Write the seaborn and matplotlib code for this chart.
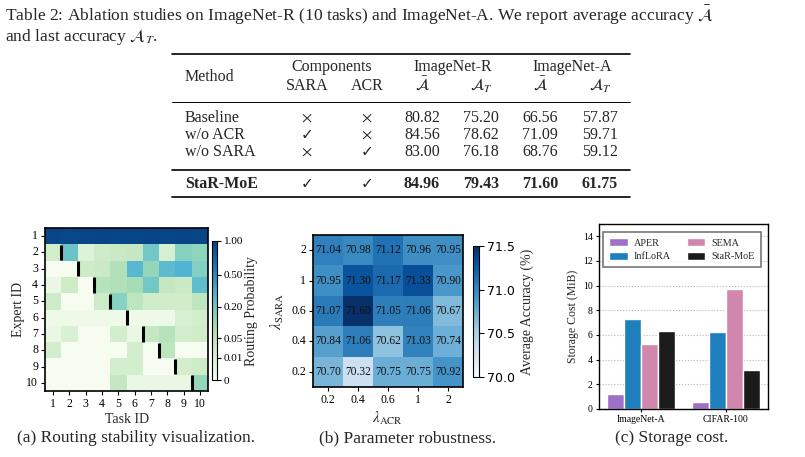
import numpy as np
import pandas as pd
import matplotlib
matplotlib.use("Agg")
import matplotlib.pyplot as plt
import seaborn as sns
from matplotlib.colors import PowerNorm
from matplotlib.lines import Line2D

# ---------------- data ----------------
table_methods = ["Baseline", "w/o ACR", "w/o SARA", "StaR-MoE"]
table_sara = [False, True, False, True]
table_acr = [False, False, True, True]
inr_avg = [80.82, 84.56, 83.00, 84.96]
inr_last = [75.20, 78.62, 76.18, 79.43]
ina_avg = [66.56, 71.09, 68.76, 71.60]
ina_last = [57.87, 59.71, 59.12, 61.75]

expert_ids = [1, 2, 3, 4, 5, 6, 7, 8, 9, 10]
task_ids = [1, 2, 3, 4, 5, 6, 7, 8, 9, 10]
routing_e1 = [0.95, 0.94, 0.95, 0.96, 0.95, 0.95, 0.96, 0.95, 0.96, 0.95]
routing_e2 = [0.02, 0.22, 0.008, 0.03, 0.035, 0.04, 0.20, 0.015, 0.15, 0.13]
routing_e3 = [0.0, 0.0, 0.03, 0.035, 0.07, 0.28, 0.12, 0.26, 0.30, 0.16]
routing_e4 = [0.001, 0.03, 0.0, 0.06, 0.07, 0.09, 0.20, 0.04, 0.035, 0.25]
routing_e5 = [0.03, 0.0, 0.0, 0.03, 0.15, 0.05, 0.025, 0.025, 0.025, 0.05]
routing_e6 = [0.0005, 0.0005, 0.0005, 0.0005, 0.0005, 0.0005, 0.0005, 0.0005, 0.015, 0.02]
routing_e7 = [0.001, 0.012, 0.0, 0.0, 0.02, 0.001, 0.04, 0.06, 0.02, 0.025]
routing_e8 = [0.02, 0.0, 0.0, 0.0, 0.0, 0.02, 0.0, 0.05, 0.0, 0.0]
routing_e9 = [0.0, 0.0, 0.0, 0.0, 0.02, 0.02, 0.0, 0.0, 0.02, 0.03]
routing_e10 = [0.0, 0.0, 0.0, 0.0, 0.04, 0.001, 0.001, 0.001, 0.001, 0.12]
expert_added_at_task = [None, 2, 3, 4, 5, 6, 7, 8, 9, 10]
routing_ticks = [0, 0.01, 0.05, 0.20, 0.50, 1.00]
routing_ticklabels = ["0", "0.01", "0.05", "0.20", "0.50", "1.00"]

lambda_acr = ["0.2", "0.4", "0.6", "1", "2"]
lambda_sara = ["2", "1", "0.6", "0.4", "0.2"]
acc_sara_2 = [71.04, 70.98, 71.12, 70.96, 70.95]
acc_sara_1 = [70.95, 71.30, 71.17, 71.33, 70.90]
acc_sara_06 = [71.07, 71.60, 71.05, 71.06, 70.67]
acc_sara_04 = [70.84, 71.06, 70.62, 71.03, 70.74]
acc_sara_02 = [70.70, 70.32, 70.75, 70.75, 70.92]
acc_ticks = [70.0, 70.5, 71.0, 71.5]

storage_datasets = ["ImageNet-A", "CIFAR-100"]
storage_methods = ["APER", "InfLoRA", "SEMA", "StaR-MoE"]
storage_imagenet_a = [1.18, 7.33, 5.30, 6.35]
storage_cifar100 = [0.58, 6.27, 9.77, 3.19]
storage_colors = ["#9d71c7", "#1d7fbc", "#d186ae", "#1b1b1b"]

# ---------------- style ----------------
sns.set_style("ticks")
plt.rcParams["font.family"] = ["Liberation Serif", "DejaVu Serif"]
plt.rcParams["mathtext.fontset"] = "stix"
plt.rcParams["axes.edgecolor"] = "black"
plt.rcParams["xtick.color"] = "black"
plt.rcParams["ytick.color"] = "black"

W, H = 805, 457
fig = plt.figure(figsize=(W / 100, H / 100), dpi=100)


def px(x0, y0, x1, y1):
    return [x0 / W, 1 - y1 / H, (x1 - x0) / W, (y1 - y0) / H]


def fx(x):
    return x / W


def fy(y):
    return 1 - y / H


# ---------------- table caption ----------------
fig.text(fx(5), fy(15), r"Table 2: Ablation studies on ImageNet-R (10 tasks) and ImageNet-A. We report average accuracy $\bar{\mathcal{A}}$",
         fontsize=12.6, ha="left", va="center")
fig.text(fx(5), fy(37), r"and last accuracy $\mathcal{A}_T$.", fontsize=12.6, ha="left", va="center")

# ---------------- table ----------------
tfs = 11.5
def hrule(y, lw):
    fig.add_artist(Line2D([fx(172), fx(630)], [fy(y), fy(y)], color="black", lw=lw))

hrule(54, 1.2)
hrule(102, 0.7)
hrule(170, 1.2)
hrule(197, 1.2)

fig.text(fx(185), fy(77), "Method", fontsize=tfs, ha="left", va="center")
fig.text(fx(332), fy(67), "Components", fontsize=tfs, ha="center", va="center")
fig.text(fx(453), fy(67), "ImageNet-R", fontsize=tfs, ha="center", va="center")
fig.text(fx(572), fy(67), "ImageNet-A", fontsize=tfs, ha="center", va="center")
col_x = [307, 367, 422, 481, 540, 600]
sub_heads = ["SARA", "ACR", r"$\bar{\mathcal{A}}$", r"$\mathcal{A}_T$", r"$\bar{\mathcal{A}}$", r"$\mathcal{A}_T$"]
for x, t in zip(col_x, sub_heads):
    fig.text(fx(x), fy(86), t, fontsize=tfs, ha="center", va="center")

row_y = [118, 135, 152, 184]
for i, m in enumerate(table_methods):
    bold = (i == len(table_methods) - 1)
    fw = "bold" if bold else "normal"
    y = fy(row_y[i])
    fig.text(fx(185), y, m, fontsize=tfs, ha="left", va="center", fontweight=fw)
    flags = [table_sara[i], table_acr[i]]
    for x, ok in zip(col_x[:2], flags):
        if ok:
            fig.text(fx(x), y, "\u2713", fontsize=11, ha="center", va="center",
                     family=["DejaVu Sans"])
        else:
            fig.text(fx(x), y, r"$\times$", fontsize=tfs, ha="center", va="center")
    vals = [inr_avg[i], inr_last[i], ina_avg[i], ina_last[i]]
    for x, v in zip(col_x[2:], vals):
        fig.text(fx(x), y, f"{v:.2f}", fontsize=tfs, ha="center", va="center", fontweight=fw)

# ---------------- (a) routing heatmap ----------------
routing = [routing_e1, routing_e2, routing_e3, routing_e4, routing_e5,
           routing_e6, routing_e7, routing_e8, routing_e9, routing_e10]
df_route = pd.DataFrame(routing, index=expert_ids, columns=task_ids)
axA = fig.add_axes(px(45, 228, 208, 391))
caxA = fig.add_axes(px(212, 241, 217, 380))
sns.heatmap(df_route, ax=axA, cbar_ax=caxA, cmap="GnBu",
            norm=PowerNorm(0.4, vmin=0, vmax=1), linewidths=0)
for r, task in enumerate(expert_added_at_task):
    if task is None:
        continue
    col = task_ids.index(task)
    axA.vlines(col, r + 0.03, r + 0.97, colors="black", lw=2.2)
for sp in axA.spines.values():
    sp.set_visible(True)
    sp.set_linewidth(1.2)
axA.tick_params(axis="both", length=3, width=0.8, labelsize=8.5, pad=2)
axA.set_yticklabels(axA.get_yticklabels(), rotation=0)
axA.set_xlabel("Task ID", fontsize=10, labelpad=2)
axA.set_ylabel("Expert ID", fontsize=10, labelpad=1)
cbA = axA.collections[0].colorbar
cbA.set_ticks(routing_ticks)
cbA.set_ticklabels(routing_ticklabels)
cbA.ax.tick_params(labelsize=8, length=3, width=0.8, pad=2)
cbA.outline.set_linewidth(0.8)
cbA.outline.set_edgecolor("black")
cbA.set_label("Routing Probability", fontsize=10, labelpad=1)

# ---------------- (b) robustness heatmap ----------------
acc = [acc_sara_2, acc_sara_1, acc_sara_06, acc_sara_04, acc_sara_02]
df_rob = pd.DataFrame(acc, index=lambda_sara, columns=lambda_acr)
axB = fig.add_axes(px(313, 235, 463, 387))
caxB = fig.add_axes(px(473, 246, 479, 377))
sns.heatmap(df_rob, ax=axB, cbar_ax=caxB, cmap="Blues", vmin=70.0, vmax=71.5,
            annot=True, fmt=".2f", annot_kws={"fontsize": 8.3, "color": "#111111"})
for sp in axB.spines.values():
    sp.set_visible(True)
    sp.set_linewidth(1.2)
axB.tick_params(axis="both", length=3, width=0.8, labelsize=8.5, pad=2)
axB.set_yticklabels(axB.get_yticklabels(), rotation=0)
axB.set_xlabel(r"$\lambda_{\mathrm{ACR}}$", fontsize=11, labelpad=3)
axB.set_ylabel(r"$\lambda_{\mathrm{SARA}}$", fontsize=11, labelpad=4)
cbB = axB.collections[0].colorbar
cbB.set_ticks(acc_ticks)
cbB.ax.tick_params(labelsize=9, length=3.5, width=0.8, pad=2)
for lab in cbB.ax.get_yticklabels():
    lab.set_family("DejaVu Sans")
cbB.outline.set_linewidth(0.8)
cbB.outline.set_edgecolor("black")
cbB.set_label("Average Accuracy (%)", fontsize=10, labelpad=4)

# ---------------- (c) storage cost ----------------
df_store = pd.DataFrame({
    "Dataset": [d for d in storage_datasets for _ in storage_methods],
    "Method": storage_methods * len(storage_datasets),
    "Cost": storage_imagenet_a + storage_cifar100,
})
axC = fig.add_axes(px(599, 224, 768, 409))
sns.barplot(data=df_store, x="Dataset", y="Cost", hue="Method", hue_order=storage_methods,
            palette=storage_colors, saturation=1, width=0.8, ax=axC)
axC.set_ylim(0, 15)
axC.set_yticks([0, 2, 4, 6, 8, 10, 12, 14])
axC.set_xlim(-0.5, 1.5)
axC.yaxis.grid(True, linestyle=":", color="#b5b5b5", lw=0.8)
axC.set_axisbelow(True)
for sp in axC.spines.values():
    sp.set_visible(True)
    sp.set_linewidth(1.0)
axC.tick_params(axis="both", length=2.5, width=0.8, labelsize=7, pad=2)
axC.set_xlabel("")
axC.set_ylabel("Storage Cost (MiB)", fontsize=8.5, labelpad=3)
leg = axC.legend(ncol=2, loc="upper left", bbox_to_anchor=(0.025, 0.955), frameon=True,
                 fancybox=False, edgecolor="#555555", fontsize=7.3, handlelength=1.8,
                 handleheight=0.8, handletextpad=0.6, columnspacing=1.6,
                 borderpad=0.6, labelspacing=0.4, borderaxespad=0)
leg.get_frame().set_linewidth(1.2)

# ---------------- sub captions ----------------
fig.text(fx(136), fy(438), "(a) Routing stability visualization.", fontsize=12.5, ha="center", va="center")
fig.text(fx(407), fy(438), "(b) Parameter robustness.", fontsize=12.5, ha="center", va="center")
fig.text(fx(672), fy(438), "(c) Storage cost.", fontsize=12.5, ha="center", va="center")

fig.savefig("out.png", dpi=100)
